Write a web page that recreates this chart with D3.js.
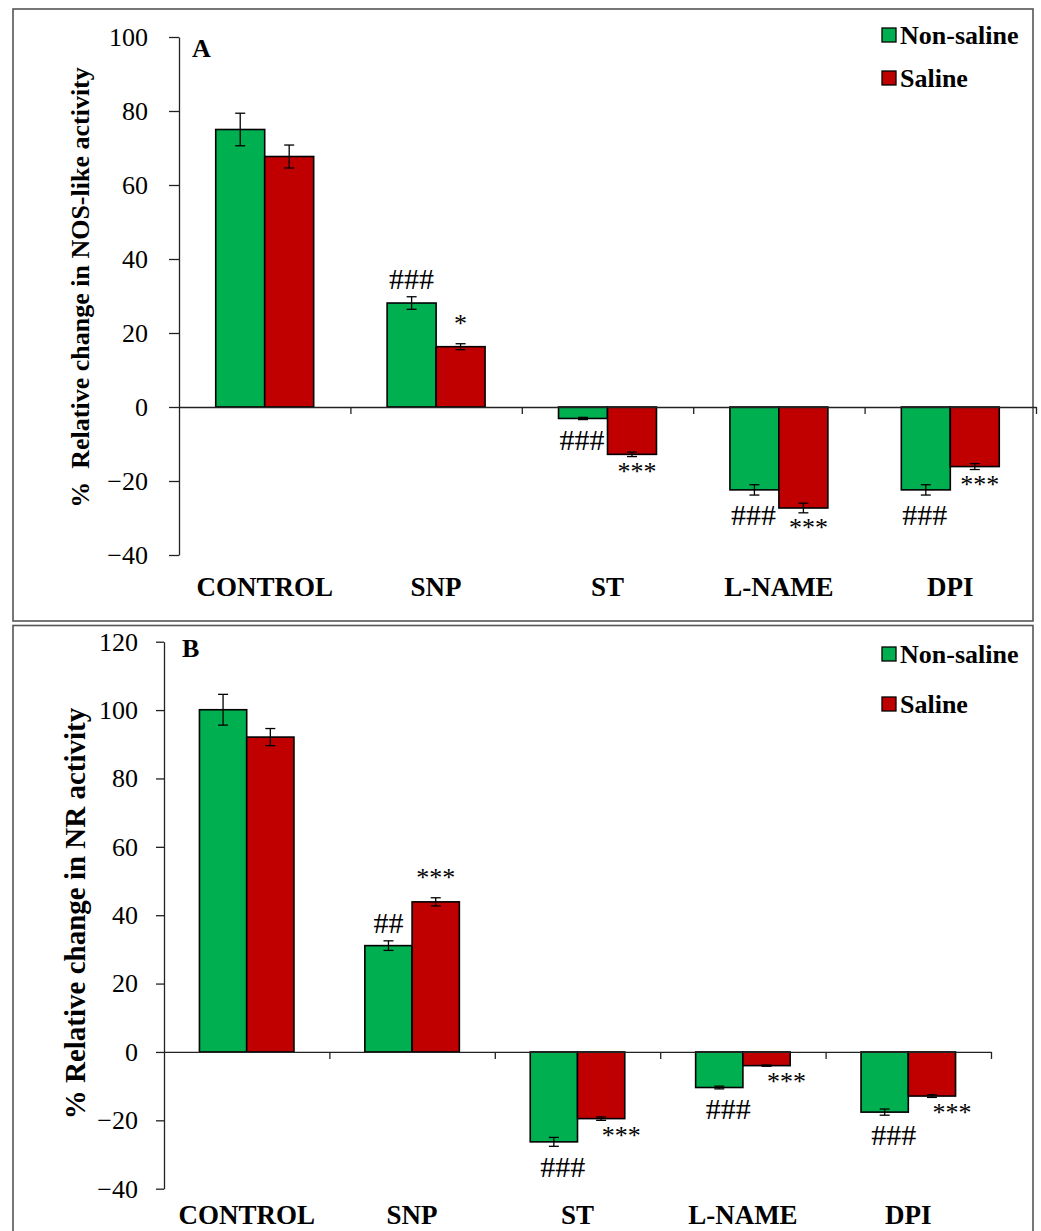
<!DOCTYPE html>
<meta charset="utf-8">
<html>
<head>
    <title>NOS-like and NR activity</title>
    <script src="https://cdn.jsdelivr.net/npm/d3@7"></script>
</head>
<style>
    body{
        margin: 0;
        background: white;
    }
    svg text{
        font-family: "Liberation Serif", "Times New Roman", serif;
        fill: #000;
    }
    .tick text{
        font-size: 26px;
    }
    .bold{
        font-weight: bold;
    }
</style>
<body>
<svg width="1041" height="1231"></svg>

<script>
    // ***************************************
    //        data
    // ***************************************
    const categories = ["CONTROL", "SNP", "ST", "L-NAME", "DPI"]
    const seriesNames = ["Non-saline", "Saline"]

    // panel A : NOS-like activity
    const nosNonSaline    = [75.0, 28.1, -3.1, -22.4, -22.4]
    const nosNonSalineErr = [4.4, 1.7, 0.3, 1.4, 1.4]
    const nosSaline       = [67.7, 16.3, -12.8, -27.3, -16.1]
    const nosSalineErr    = [3.1, 0.8, 0.6, 1.3, 0.8]
    const nosNonSalineSig = ["", "###", "###", "###", "###"]
    const nosSalineSig    = ["", "*", "***", "***", "***"]
    const nosTicks = [-40, -20, 0, 20, 40, 60, 80, 100]

    // panel B : NR activity
    const nrNonSaline    = [100.1, 31.1, -26.3, -10.4, -17.6]
    const nrNonSalineErr = [4.5, 1.4, 1.3, 0.4, 0.9]
    const nrSaline       = [92.1, 43.9, -19.5, -4.0, -12.9]
    const nrSalineErr    = [2.5, 1.2, 0.5, 0.2, 0.4]
    const nrNonSalineSig = ["", "##", "###", "###", "###"]
    const nrSalineSig    = ["", "***", "***", "***", "***"]
    const nrTicks = [-40, -20, 0, 20, 40, 60, 80, 100, 120]

    const colors = ["#00b050", "#c00000"]

    // ***************************************
    //        panel layout
    // ***************************************
    const panels = [
        {
            letter: "A",
            ylabel: "%  Relative change in NOS-like activity",
            series: [
                {values: nosNonSaline, err: nosNonSalineErr, sig: nosNonSalineSig},
                {values: nosSaline, err: nosSalineErr, sig: nosSalineSig}
            ],
            ticks: nosTicks,
            box: [13, 9, 1020, 612],
            xr: [179, 1036], yr: [555, 37],
            tickLen: 10, tickPad: 21,
            catBase: 596,
            ylab: [80, 287.5, 26],
            letterPos: [192, 57],
            legend: [882, 35, 43],
            sigDx: [-1, 5]      // nudge of marks under negative bars
        },
        {
            letter: "B",
            ylabel: "% Relative change in NR activity",
            series: [
                {values: nrNonSaline, err: nrNonSalineErr, sig: nrNonSalineSig},
                {values: nrSaline, err: nrSalineErr, sig: nrSalineSig}
            ],
            ticks: nrTicks,
            box: [13, 625.5, 1020, 640],
            xr: [164, 991], yr: [1188.7, 641.7],
            tickLen: 8, tickPad: 18,
            catBase: 1224,
            ylab: [75, 913.5, 29],
            letterPos: [182, 657],
            legend: [882, 654, 50],
            sigDx: [9, 20]
        }
    ]

    const svg = d3.select("svg")

    panels.forEach(function (p) {
        const g = svg.append("g")

        // frame
        g.append("rect")
            .attr("x", p.box[0]).attr("y", p.box[1])
            .attr("width", p.box[2]).attr("height", p.box[3])
            .attr("fill", "none")
            .attr("stroke", "#555")
            .attr("stroke-width", 1.6)

        const y = d3.scaleLinear()
            .domain([d3.min(p.ticks), d3.max(p.ticks)])
            .range(p.yr)
        const x = d3.scaleBand()
            .domain(categories)
            .range(p.xr)
        const xs = d3.scaleBand()
            .domain(seriesNames)
            .range([0, x.bandwidth()])
            .paddingOuter(0.75)

        // y axis
        const yAxis = g.append("g")
            .attr("transform", `translate(${p.xr[0]},0)`)
            .call(d3.axisLeft(y).tickValues(p.ticks).tickSize(p.tickLen).tickSizeOuter(0).tickPadding(p.tickPad))
        yAxis.select(".domain").attr("stroke", "#222").attr("stroke-width", 1.3)
        yAxis.selectAll(".tick line").attr("stroke", "#222").attr("stroke-width", 1.3)

        // bars
        p.series.forEach(function (s, si) {
            const bars = g.append("g")
            bars.selectAll("rect")
                .data(categories)
                .enter()
                .append("rect")
                .attr("x", d => x(d) + xs(seriesNames[si]))
                .attr("width", xs.bandwidth())
                .attr("y", (d, i) => y(Math.max(0, s.values[i])))
                .attr("height", (d, i) => Math.abs(y(s.values[i]) - y(0)))
                .attr("fill", colors[si])
                .attr("stroke", "#000")
                .attr("stroke-width", 1.6)

            // error bars
            categories.forEach(function (c, i) {
                const cx = x(c) + xs(seriesNames[si]) + xs.bandwidth() / 2
                const y1 = y(s.values[i] + s.err[i]), y2 = y(s.values[i] - s.err[i])
                const eb = bars.append("g").attr("stroke", "#000").attr("stroke-width", 1.3)
                eb.append("line").attr("x1", cx).attr("x2", cx).attr("y1", y1).attr("y2", y2)
                eb.append("line").attr("x1", cx - 5).attr("x2", cx + 5).attr("y1", y1).attr("y2", y1)
                eb.append("line").attr("x1", cx - 5).attr("x2", cx + 5).attr("y1", y2).attr("y2", y2)

                // significance marks
                const lab = s.sig[i]
                if (!lab) return
                const star = lab[0] === "*"
                const fs = star ? 26 : 30
                const up = s.values[i] >= 0
                let gap, centre
                if (up) {
                    gap = star ? 24 : 18
                    centre = y(s.values[i] + s.err[i]) - gap
                } else {
                    gap = star ? 11 : 20
                    centre = y(s.values[i] - s.err[i]) + gap
                }
                const base = centre + (star ? 0.47 : 0.34) * fs
                bars.append("text")
                    .attr("x", cx + (up ? 0 : p.sigDx[si]))
                    .attr("y", base)
                    .attr("text-anchor", "middle")
                    .style("font-size", fs + "px")
                    .text(lab)
            })
        })

        // x axis at zero with boundary ticks
        const xb = d3.scaleLinear().domain([0, categories.length]).range(p.xr)
        const xAxis = g.append("g")
            .attr("transform", `translate(0,${y(0)})`)
            .call(d3.axisBottom(xb).tickValues([1, 2, 3, 4, 5]).tickSize(7).tickSizeOuter(0).tickFormat(""))
        xAxis.select(".domain").attr("stroke", "#222").attr("stroke-width", 1.3)
        xAxis.selectAll(".tick line").attr("stroke", "#222").attr("stroke-width", 1.3)

        // category labels
        g.append("g")
            .selectAll("text")
            .data(categories)
            .enter()
            .append("text")
            .attr("class", "bold")
            .attr("x", d => x(d) + x.bandwidth() / 2)
            .attr("y", p.catBase)
            .attr("text-anchor", "middle")
            .style("font-size", "27px")
            .text(d => d)

        // y label
        g.append("text")
            .attr("class", "bold")
            .attr("transform", `translate(${p.ylab[0]},${p.ylab[1]}) rotate(-90)`)
            .attr("text-anchor", "middle")
            .attr("dominant-baseline", "central")
            .style("font-size", p.ylab[2] + "px")
            .style("white-space", "pre")
            .text(p.ylabel)

        // panel letter
        g.append("text")
            .attr("class", "bold")
            .attr("x", p.letterPos[0])
            .attr("y", p.letterPos[1])
            .style("font-size", "26px")
            .text(p.letter)

        // legend
        const leg = g.append("g")
        seriesNames.forEach(function (n, i) {
            const cy = p.legend[1] + i * p.legend[2]
            leg.append("rect")
                .attr("x", p.legend[0]).attr("y", cy - 7)
                .attr("width", 14).attr("height", 14)
                .attr("fill", colors[i])
                .attr("stroke", "#000")
                .attr("stroke-width", 1.3)
            leg.append("text")
                .attr("class", "bold")
                .attr("x", p.legend[0] + 18)
                .attr("y", cy + 9)
                .style("font-size", "26px")
                .text(n)
        })
    })
</script>
</body>
</html>
